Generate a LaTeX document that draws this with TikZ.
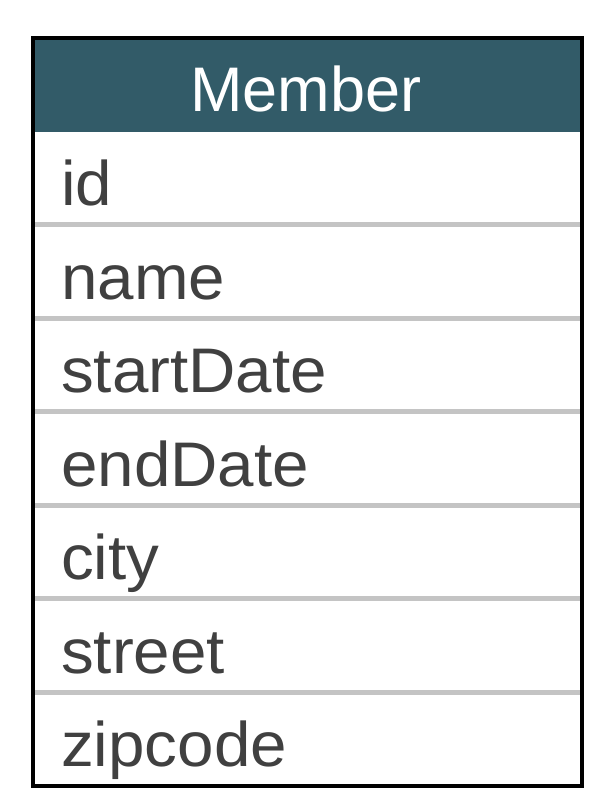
\documentclass[tikz,border=0pt]{standalone}
\usepackage{fontspec}
\setmainfont{Liberation Sans}
\newfontfamily\widefont[FakeStretch=1.04]{Liberation Sans}
\definecolor{headbg}{RGB}{50,91,104}
\definecolor{rowtext}{RGB}{64,64,64}
\definecolor{sepgray}{RGB}{196,196,196}
\tikzset{
  field/.style={anchor=base west, inner sep=0pt, text=rowtext, font=\widefont\fontsize{63}{70}\selectfont},
  title/.style={anchor=base, inner sep=0pt, text=white, font=\fontsize{63}{70}\selectfont},
  sep/.style={draw=sepgray, line width=5pt},
  frame/.style={draw=black, line width=4pt}
}
\begin{document}
\begin{tikzpicture}[x=1pt,y=-1pt]
\useasboundingbox (0,0) rectangle (614,810);
\fill[headbg] (33,38) rectangle (581.5,131.7);
\node[title] (hdr) at (306,111.7) {Member};
\foreach \yy in {224.7,318.2,411.7,505.2,598.7,692.2}
  \draw[sep] (35,\yy) -- (580,\yy);
\node[field] (f1) at (61,205.7) {id};
\node[field] (f2) at (61,299.2) {name};
\node[field] (f3) at (61,392.7) {startDate};
\node[field] (f4) at (61,486.2) {endDate};
\node[field] (f5) at (61,579.7) {city};
\node[field] (f6) at (61,673.2) {street};
\node[field] (f7) at (61,766.7) {zipcode};
\draw[frame] (33,38) rectangle (581.5,786);
\end{tikzpicture}
\end{document}
